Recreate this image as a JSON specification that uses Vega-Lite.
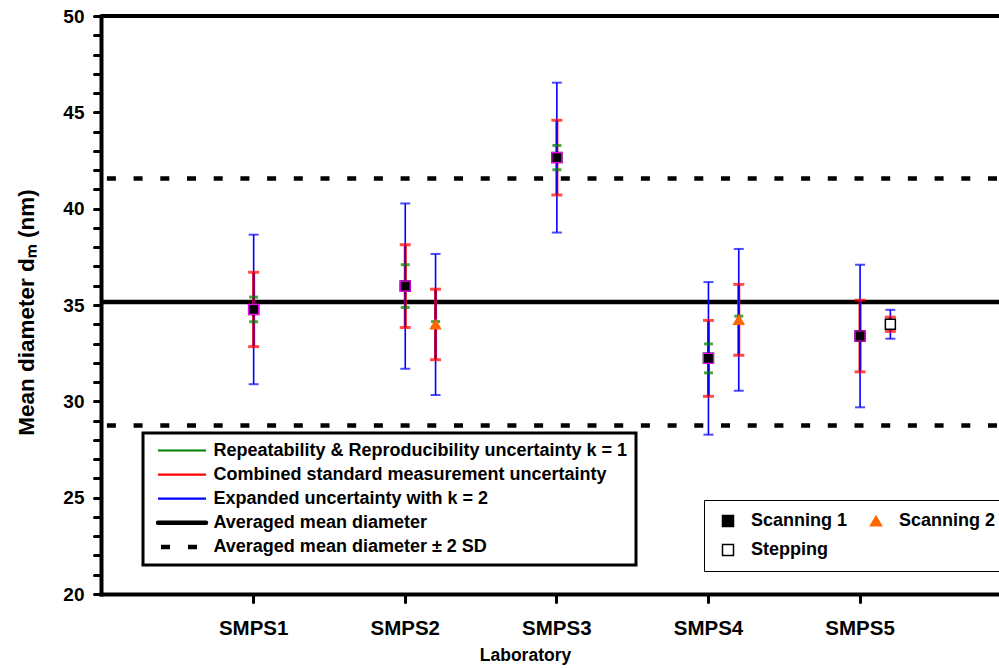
{
  "$schema": "https://vega.github.io/schema/vega-lite/v6.json",
  "width": 898,
  "height": 578,
  "autosize": {"type": "none"},
  "padding": {"left": 101, "top": 16, "right": 0, "bottom": 74},
  "background": "white",
  "config": {
    "view": {"stroke": null},
    "font": "Liberation Sans",
    "axis": {
      "domainColor": "black",
      "domainWidth": 4,
      "domainCap": "square",
      "tickColor": "black",
      "tickWidth": 3,
      "tickCap": "round",
      "labelColor": "black",
      "labelFont": "Liberation Sans",
      "labelFontWeight": "bold",
      "titleColor": "black",
      "titleFont": "Liberation Sans",
      "titleFontWeight": "bold",
      "grid": false
    }
  },
  "datasets": {
    "refs": [
      {"series": "Averaged mean diameter", "value": 35.16},
      {"series": "Averaged mean diameter ± 2 SD", "value": 41.57},
      {"series": "Averaged mean diameter ± 2 SD", "value": 28.75}
    ],
    "bars": [
      {"lab": "SMPS1", "run": "1", "series": "Repeatability & Reproducibility uncertainty k = 1", "lo": 34.13, "hi": 35.41},
      {"lab": "SMPS1", "run": "1", "series": "Combined standard measurement uncertainty", "lo": 32.84, "hi": 36.70},
      {"lab": "SMPS1", "run": "1", "series": "Expanded uncertainty with k = 2", "lo": 30.89, "hi": 38.65},
      {"lab": "SMPS2", "run": "1", "series": "Repeatability & Reproducibility uncertainty k = 1", "lo": 34.87, "hi": 37.09},
      {"lab": "SMPS2", "run": "1", "series": "Combined standard measurement uncertainty", "lo": 33.83, "hi": 38.13},
      {"lab": "SMPS2", "run": "1", "series": "Expanded uncertainty with k = 2", "lo": 31.69, "hi": 40.27},
      {"lab": "SMPS2", "run": "2", "series": "Repeatability & Reproducibility uncertainty k = 1", "lo": 33.84, "hi": 34.14},
      {"lab": "SMPS2", "run": "2", "series": "Combined standard measurement uncertainty", "lo": 32.16, "hi": 35.82},
      {"lab": "SMPS2", "run": "2", "series": "Expanded uncertainty with k = 2", "lo": 30.33, "hi": 37.65},
      {"lab": "SMPS3", "run": "1", "series": "Repeatability & Reproducibility uncertainty k = 1", "lo": 42.02, "hi": 43.28},
      {"lab": "SMPS3", "run": "1", "series": "Combined standard measurement uncertainty", "lo": 40.71, "hi": 44.59},
      {"lab": "SMPS3", "run": "1", "series": "Expanded uncertainty with k = 2", "lo": 38.76, "hi": 46.54},
      {"lab": "SMPS4", "run": "1", "series": "Repeatability & Reproducibility uncertainty k = 1", "lo": 31.48, "hi": 32.98},
      {"lab": "SMPS4", "run": "1", "series": "Combined standard measurement uncertainty", "lo": 30.26, "hi": 34.20},
      {"lab": "SMPS4", "run": "1", "series": "Expanded uncertainty with k = 2", "lo": 28.27, "hi": 36.19},
      {"lab": "SMPS4", "run": "2", "series": "Repeatability & Reproducibility uncertainty k = 1", "lo": 34.04, "hi": 34.42},
      {"lab": "SMPS4", "run": "2", "series": "Combined standard measurement uncertainty", "lo": 32.39, "hi": 36.07},
      {"lab": "SMPS4", "run": "2", "series": "Expanded uncertainty with k = 2", "lo": 30.55, "hi": 37.91},
      {"lab": "SMPS5", "run": "1", "series": "Repeatability & Reproducibility uncertainty k = 1", "lo": 33.18, "hi": 33.60},
      {"lab": "SMPS5", "run": "1", "series": "Combined standard measurement uncertainty", "lo": 31.53, "hi": 35.25},
      {"lab": "SMPS5", "run": "1", "series": "Expanded uncertainty with k = 2", "lo": 29.69, "hi": 37.09},
      {"lab": "SMPS5", "run": "2", "series": "Repeatability & Reproducibility uncertainty k = 1", "lo": 33.90, "hi": 34.10},
      {"lab": "SMPS5", "run": "2", "series": "Combined standard measurement uncertainty", "lo": 33.63, "hi": 34.37},
      {"lab": "SMPS5", "run": "2", "series": "Expanded uncertainty with k = 2", "lo": 33.25, "hi": 34.75}
    ],
    "points": [
      {"lab": "SMPS1", "run": "1", "method": "Scanning 1", "dm": 34.77},
      {"lab": "SMPS2", "run": "1", "method": "Scanning 1", "dm": 35.98},
      {"lab": "SMPS2", "run": "2", "method": "Scanning 2", "dm": 33.99},
      {"lab": "SMPS3", "run": "1", "method": "Scanning 1", "dm": 42.65},
      {"lab": "SMPS4", "run": "1", "method": "Scanning 1", "dm": 32.23},
      {"lab": "SMPS4", "run": "2", "method": "Scanning 2", "dm": 34.23},
      {"lab": "SMPS5", "run": "1", "method": "Scanning 1", "dm": 33.39},
      {"lab": "SMPS5", "run": "2", "method": "Stepping", "dm": 34.00}
    ]
  },
  "layer": [
    {
      "data": {"name": "refs"},
      "transform": [{"filter": "datum.series === 'Averaged mean diameter'"}],
      "mark": {"type": "rule", "strokeWidth": 4.5},
      "encoding": {
        "y": {
          "field": "value", "type": "quantitative", "title": "Mean diameter dₘ (nm)",
          "scale": {"domain": [20, 50], "nice": false, "zero": false},
          "axis": {
            "values": [20,21,22,23,24,25,26,27,28,29,30,31,32,33,34,35,36,37,38,39,40,41,42,43,44,45,46,47,48,49,50],
            "tickCount": 100,
            "format": "d",
            "labelExpr": "datum.value % 5 === 0 ? datum.label : ''",
            "labelOverlap": false,
            "tickSize": 7,
            "labelPadding": 10,
            "labelFontSize": 19,
            "titleFontSize": 22.5,
            "titlePadding": 24,
            "titleY": 296,
            "encode": {"ticks": {"update": {"x2": {"signal": "datum.value % 5 === 0 ? -7 : 7"}}}}
          }
        },
        "color": {
          "field": "series", "type": "nominal",
          "scale": {
            "domain": ["Repeatability & Reproducibility uncertainty k = 1", "Combined standard measurement uncertainty", "Expanded uncertainty with k = 2", "Averaged mean diameter", "Averaged mean diameter ± 2 SD"],
            "range": ["#008000", "#ff0000", "#0000ff", "#000000", "#000000"]
          },
          "legend": {
            "title": null,
            "orient": "none",
            "legendX": 42,
            "legendY": 417,
            "symbolType": "M-6,0H6",
            "symbolSize": 64,
            "symbolOffset": 21.5,
            "labelOffset": 22.5,
            "labelFontSize": 18,
            "labelFont": "Liberation Sans",
            "labelFontWeight": "bold",
            "labelColor": "black",
            "labelLimit": 1000,
            "rowPadding": 6.1,
            "padding": 8.5,
            "strokeColor": "black",
            "fillColor": "white",
            "encode": {
              "legend": {"update": {"strokeWidth": {"value": 3}}},
              "symbols": {"update": {
                "strokeWidth": {"signal": "datum.value === 'Averaged mean diameter' || datum.value === 'Averaged mean diameter ± 2 SD' ? 4.5 : 2.2"},
                "strokeDash": {"signal": "datum.value === 'Averaged mean diameter ± 2 SD' ? [9, 18] : [1, 0]"},
                "strokeDashOffset": {"signal": "datum.value === 'Averaged mean diameter ± 2 SD' ? -3 : 0"},
                "strokeCap": {"signal": "datum.value === 'Averaged mean diameter' ? 'round' : 'butt'"}
              }}
            }
          }
        }
      }
    },
    {
      "data": {"name": "refs"},
      "transform": [{"filter": "datum.series === 'Averaged mean diameter ± 2 SD'"}],
      "mark": {"type": "rule", "strokeWidth": 4.5, "strokeDash": [9, 17.7], "strokeDashOffset": -2},
      "encoding": {
        "y": {"field": "value", "type": "quantitative", "title": "Mean diameter dₘ (nm)"},
        "color": {"field": "series", "type": "nominal"}
      }
    },
    {
      "data": {"name": "bars"},
      "transform": [{"filter": "datum.series === 'Repeatability & Reproducibility uncertainty k = 1'"}],
      "mark": {"type": "rule", "strokeWidth": 2},
      "encoding": {
        "x": {
          "field": "lab", "type": "nominal", "title": "Laboratory",
          "scale": {"type": "band", "domain": ["SMPS1", "SMPS2", "SMPS3", "SMPS4", "SMPS5"], "paddingInner": 0, "paddingOuter": 0.4617, "align": 0.549},
          "axis": {
            "labelAngle": 0,
            "tickSize": 8,
            "labelPadding": 16,
            "labelFontSize": 20.5,
            "titleFontSize": 17.5,
            "titleX": 424,
            "titleY": 52
          }
        },
        "xOffset": {"field": "run", "type": "nominal", "scale": {"type": "point", "domain": ["1", "2"], "range": [75.8, 106.1], "padding": 0}},
        "y": {"field": "lo", "type": "quantitative", "title": "Mean diameter dₘ (nm)"},
        "y2": {"field": "hi"},
        "color": {"field": "series", "type": "nominal"}
      }
    },
    {
      "data": {"name": "bars"},
      "transform": [{"filter": "datum.series === 'Combined standard measurement uncertainty'"}],
      "mark": {"type": "rule", "strokeWidth": 3},
      "encoding": {
        "x": {"field": "lab", "type": "nominal", "title": "Laboratory"},
        "xOffset": {"field": "run", "type": "nominal"},
        "y": {"field": "lo", "type": "quantitative", "title": "Mean diameter dₘ (nm)"},
        "y2": {"field": "hi"},
        "color": {"field": "series", "type": "nominal"}
      }
    },
    {
      "data": {"name": "bars"},
      "transform": [{"filter": "datum.series === 'Expanded uncertainty with k = 2'"}],
      "mark": {"type": "rule", "strokeWidth": 1.6},
      "encoding": {
        "x": {"field": "lab", "type": "nominal", "title": "Laboratory"},
        "xOffset": {"field": "run", "type": "nominal"},
        "y": {"field": "lo", "type": "quantitative", "title": "Mean diameter dₘ (nm)"},
        "y2": {"field": "hi"},
        "color": {"field": "series", "type": "nominal"}
      }
    },
    {
      "data": {"name": "bars"},
      "transform": [
        {"filter": "datum.series === 'Expanded uncertainty with k = 2'"},
        {"fold": ["lo", "hi"], "as": ["end", "v"]}
      ],
      "mark": {"type": "tick", "orient": "horizontal", "size": 10, "thickness": 2},
      "encoding": {
        "x": {"field": "lab", "type": "nominal", "title": "Laboratory"},
        "xOffset": {"field": "run", "type": "nominal"},
        "y": {"field": "v", "type": "quantitative", "title": "Mean diameter dₘ (nm)"},
        "color": {"field": "series", "type": "nominal"}
      }
    },
    {
      "data": {"name": "bars"},
      "transform": [
        {"filter": "datum.series === 'Combined standard measurement uncertainty'"},
        {"fold": ["lo", "hi"], "as": ["end", "v"]}
      ],
      "mark": {"type": "tick", "orient": "horizontal", "size": 11, "thickness": 3},
      "encoding": {
        "x": {"field": "lab", "type": "nominal", "title": "Laboratory"},
        "xOffset": {"field": "run", "type": "nominal"},
        "y": {"field": "v", "type": "quantitative", "title": "Mean diameter dₘ (nm)"},
        "color": {"field": "series", "type": "nominal"}
      }
    },
    {
      "data": {"name": "bars"},
      "transform": [
        {"filter": "datum.series === 'Repeatability & Reproducibility uncertainty k = 1'"},
        {"fold": ["lo", "hi"], "as": ["end", "v"]}
      ],
      "mark": {"type": "tick", "orient": "horizontal", "size": 9, "thickness": 3},
      "encoding": {
        "x": {"field": "lab", "type": "nominal", "title": "Laboratory"},
        "xOffset": {"field": "run", "type": "nominal"},
        "y": {"field": "v", "type": "quantitative", "title": "Mean diameter dₘ (nm)"},
        "color": {"field": "series", "type": "nominal"}
      }
    },
    {
      "data": {"name": "points"},
      "mark": {"type": "point", "filled": true, "size": 100, "strokeWidth": 1.5, "opacity": 1},
      "encoding": {
        "x": {"field": "lab", "type": "nominal", "title": "Laboratory"},
        "xOffset": {"field": "run", "type": "nominal"},
        "y": {"field": "dm", "type": "quantitative", "title": "Mean diameter dₘ (nm)"},
        "shape": {
          "field": "method", "type": "nominal",
          "scale": {"domain": ["Scanning 1", "Scanning 2", "Stepping"], "range": ["square", "triangle-up", "square"]},
          "legend": {
            "title": null,
            "orient": "none",
            "direction": "horizontal",
            "legendX": 603,
            "legendY": 484,
            "columns": 2,
            "columnPadding": 16,
            "rowPadding": 11,
            "padding": 12,
            "symbolSize": 121,
            "symbolOffset": 3,
            "labelOffset": 14,
            "labelFontSize": 18,
            "labelFont": "Liberation Sans",
            "labelFontWeight": "bold",
            "labelColor": "black",
            "labelLimit": 1000,
            "strokeColor": "black",
            "fillColor": "white",
            "encode": {
              "legend": {"update": {"strokeWidth": {"value": 3}}}
            }
          }
        },
        "fill": {
          "field": "method", "type": "nominal",
          "scale": {"domain": ["Scanning 1", "Scanning 2", "Stepping"], "range": ["#000000", "#ff6600", "#ffffff"]}
        },
        "stroke": {
          "field": "method", "type": "nominal",
          "scale": {"domain": ["Scanning 1", "Scanning 2", "Stepping"], "range": ["#000000", "#ff6600", "#000000"]}
        }
      }
    },
    {
      "data": {"name": "points"},
      "transform": [{"filter": "datum.method === 'Scanning 1'"}],
      "mark": {"type": "point", "shape": "square", "filled": false, "size": 100, "stroke": "#ff00ff", "strokeWidth": 1.2, "opacity": 1},
      "encoding": {
        "x": {"field": "lab", "type": "nominal", "title": "Laboratory"},
        "xOffset": {"field": "run", "type": "nominal"},
        "y": {"field": "dm", "type": "quantitative", "title": "Mean diameter dₘ (nm)"}
      }
    },
    {
      "data": {"values": [{}]},
      "mark": {"type": "rule", "strokeWidth": 4, "color": "black"},
      "encoding": {"y": {"datum": 50}}
    }
  ]
}
